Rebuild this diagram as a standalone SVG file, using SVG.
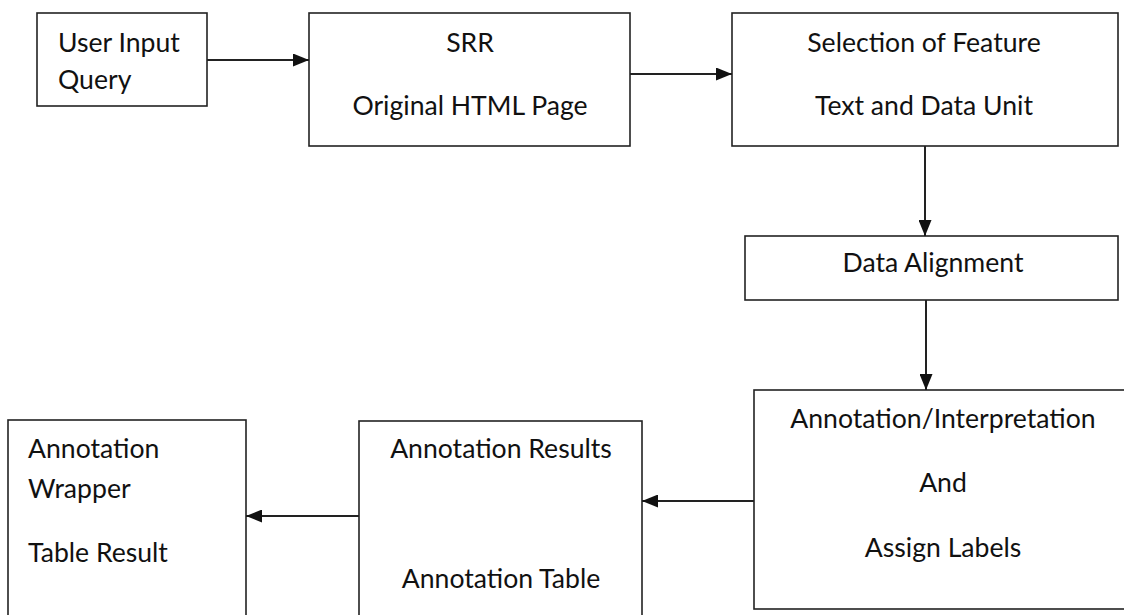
<svg xmlns="http://www.w3.org/2000/svg" width="1124" height="615" viewBox="0 0 1124 615">
  <style>
    .box { fill: #ffffff; stroke: #222222; stroke-width: 1.6; }
    .lbl { font-family: Lato, "Open Sans", "Liberation Sans", sans-serif; font-size: 26.6px; fill: #111111; }
    .c { text-anchor: middle; }
    .edge { fill: none; stroke: #222222; stroke-width: 2; }
  </style>
  <defs>
    <marker id="arrow" viewBox="0 0 16 13" refX="16" refY="6.5" markerWidth="16" markerHeight="13" markerUnits="userSpaceOnUse" orient="auto">
      <path d="M0,0 L16,6.5 L0,13 Z" fill="#111111"/>
    </marker>
  </defs>
  <rect width="1124" height="615" fill="#ffffff"/>

  <g id="node-user-input">
    <rect class="box" x="37" y="13" width="170" height="93"/>
    <text class="lbl" x="58" y="52">User Input</text>
    <text class="lbl" x="58" y="89">Query</text>
  </g>

  <g id="node-srr">
    <rect class="box" x="309" y="13" width="321" height="133"/>
    <text class="lbl c" x="470" y="52">SRR</text>
    <text class="lbl c" x="470" y="115">Original HTML Page</text>
  </g>

  <g id="node-selection">
    <rect class="box" x="732" y="13" width="386" height="133"/>
    <text class="lbl c" x="924" y="52">Selection of Feature</text>
    <text class="lbl c" x="924" y="115">Text and Data Unit</text>
  </g>

  <g id="node-data-alignment">
    <rect class="box" x="745" y="236" width="373" height="64"/>
    <text class="lbl c" x="933" y="272">Data Alignment</text>
  </g>

  <g id="node-annotation-interpretation">
    <rect class="box" x="754" y="390" width="380" height="219"/>
    <text class="lbl c" x="943" y="428">Annotation/Interpretation</text>
    <text class="lbl c" x="943" y="492">And</text>
    <text class="lbl c" x="943" y="557">Assign Labels</text>
  </g>

  <g id="node-annotation-results">
    <rect class="box" x="359" y="421" width="283" height="200"/>
    <text class="lbl c" x="501" y="458">Annotation Results</text>
    <text class="lbl c" x="501" y="588">Annotation Table</text>
  </g>

  <g id="node-annotation-wrapper">
    <rect class="box" x="8" y="420" width="238" height="200"/>
    <text class="lbl" x="28" y="458">Annotation</text>
    <text class="lbl" x="28" y="498">Wrapper</text>
    <text class="lbl" x="28" y="562">Table Result</text>
  </g>

  <g id="connectors">
    <line class="edge" x1="207" y1="60" x2="309" y2="60" marker-end="url(#arrow)"/>
    <line class="edge" x1="630" y1="74" x2="732" y2="74" marker-end="url(#arrow)"/>
    <line class="edge" x1="925" y1="146" x2="925" y2="236" marker-end="url(#arrow)"/>
    <line class="edge" x1="926" y1="300" x2="926" y2="390" marker-end="url(#arrow)"/>
    <line class="edge" x1="754" y1="501" x2="642" y2="501" marker-end="url(#arrow)"/>
    <line class="edge" x1="359" y1="516" x2="246" y2="516" marker-end="url(#arrow)"/>
  </g>
</svg>
